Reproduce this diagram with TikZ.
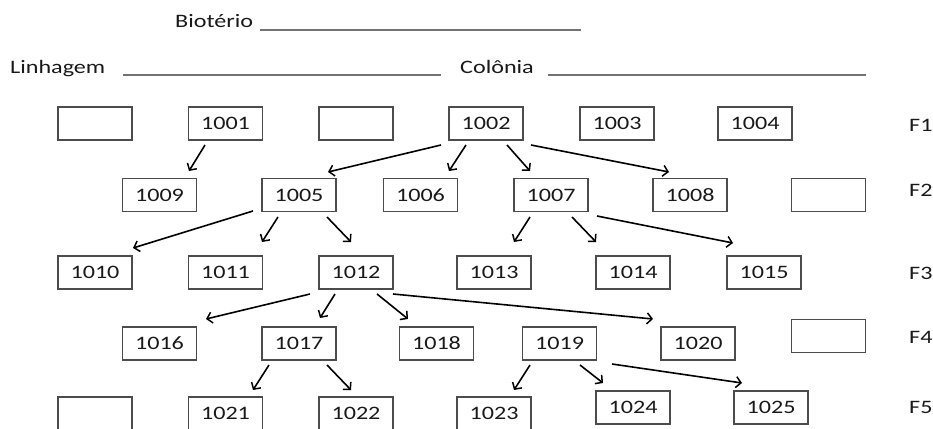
\documentclass[tikz,border=0pt]{standalone}
\usepackage{fontspec}
\setmainfont{Carlito}[FakeStretch=1.27]
\usetikzlibrary{arrows.meta}
\newcommand\conn[6]{\draw[arr] ([shift={(#2,#3)}]#1.center) -- ([shift={(#5,#6)}]#4.center);}
\begin{document}
\begin{tikzpicture}[x=1pt,y=-1pt,
  fbox/.style={draw=black!70,line width=1.2pt,minimum width=74pt,minimum height=33pt,inner sep=0pt,
    font=\fontsize{19}{22}\selectfont,text=black!90},
  lbl/.style={font=\fontsize{19}{22}\selectfont,text=black!90,inner sep=0pt},
  arr/.style={line width=1.6pt,-{Straight Barb[length=5pt,width=11pt,line width=1.5pt]}},
  uline/.style={draw=black!55,line width=1.5pt}]
\useasboundingbox (0,0) rectangle (933,428);
% header
\node[lbl,anchor=base west] (bio) at (175,28) {Biotério};
\node[lbl,anchor=base west] (lin) at (10,73) {Linhagem};
\node[lbl,anchor=base west] (col) at (460,73) {Colônia};
\draw[uline] (260,30) -- (581,30);
\draw[uline] (123,75) -- (441,75);
\draw[uline] (548,75) -- (866,75);
% F1
\node[fbox] (e1) at (95,123.5) {};
\node[fbox] (n1001) at (225.5,123.5) {1001};
\node[fbox] (e2) at (356,123.5) {};
\node[fbox] (n1002) at (486,123.5) {1002};
\node[fbox] (n1003) at (617,123.5) {1003};
\node[fbox] (n1004) at (755,123.5) {1004};
% F2
\node[fbox] (n1009) at (159.5,195) {1009};
\node[fbox] (n1005) at (299,195) {1005};
\node[fbox] (n1006) at (420.5,195) {1006};
\node[fbox] (n1007) at (551,195) {1007};
\node[fbox] (n1008) at (690,195) {1008};
\node[fbox] (e3) at (828.5,195) {};
% F3
\node[fbox] (n1010) at (95,272.5) {1010};
\node[fbox] (n1011) at (225.5,272.5) {1011};
\node[fbox] (n1012) at (356,272.5) {1012};
\node[fbox] (n1013) at (494,272.5) {1013};
\node[fbox] (n1014) at (633,272.5) {1014};
\node[fbox] (n1015) at (764,272.5) {1015};
% F4
\node[fbox] (n1016) at (159.5,343.5) {1016};
\node[fbox] (n1017) at (299,343.5) {1017};
\node[fbox] (n1018) at (436.5,343.5) {1018};
\node[fbox] (n1019) at (559.5,343.5) {1019};
\node[fbox] (n1020) at (698,343.5) {1020};
\node[fbox] (e4) at (828.5,336) {};
% F5
\node[fbox] (e5) at (95,413.5) {};
\node[fbox] (n1021) at (225.5,413.5) {1021};
\node[fbox] (n1022) at (356,413.5) {1022};
\node[fbox] (n1023) at (494,413.5) {1023};
\node[fbox] (n1024) at (633,407.5) {1024};
\node[fbox] (n1025) at (771,407.5) {1025};
% generation labels
\node[lbl,anchor=west] (f1) at (909,125) {F1};
\node[lbl,anchor=west] (f2) at (909,190) {F2};
\node[lbl,anchor=west] (f3) at (909,273) {F3};
\node[lbl,anchor=west] (f4) at (909,337) {F4};
\node[lbl,anchor=west] (f5) at (909,407) {F5};
% connectors
\conn{n1001}{-20.5}{21.5}{n1009}{29.5}{-24}
\conn{n1002}{-45}{21.5}{n1005}{29}{-23}
\conn{n1002}{-20}{21.5}{n1006}{28.5}{-24}
\conn{n1002}{21}{21.5}{n1007}{-21}{-24}
\conn{n1002}{45}{21.5}{n1008}{-21}{-23}
\conn{n1005}{-46}{16}{n1010}{38}{-24.5}
\conn{n1005}{-21}{22}{n1011}{36.5}{-30.5}
\conn{n1005}{28}{22}{n1012}{-5}{-30.5}
\conn{n1007}{-21}{22}{n1013}{20}{-30.5}
\conn{n1007}{21}{22}{n1014}{-37}{-30.5}
\conn{n1007}{46}{21}{n1015}{-31}{-29.5}
\conn{n1012}{-46}{21.5}{n1016}{46.5}{-24.5}
\conn{n1012}{-21}{21.5}{n1017}{21}{-25.5}
\conn{n1012}{21}{21.5}{n1018}{-28.5}{-24.5}
\conn{n1012}{37}{21.5}{n1020}{-45}{-24.5}
\conn{n1017}{-30}{21.5}{n1021}{27.5}{-23.5}
\conn{n1017}{28}{21.5}{n1022}{-5}{-23.5}
\conn{n1019}{-29.5}{21.5}{n1023}{20}{-23.5}
\conn{n1019}{20.5}{21.5}{n1024}{-30}{-24.5}
\conn{n1019}{52.5}{20.5}{n1025}{-29}{-24.5}
\end{tikzpicture}
\end{document}
